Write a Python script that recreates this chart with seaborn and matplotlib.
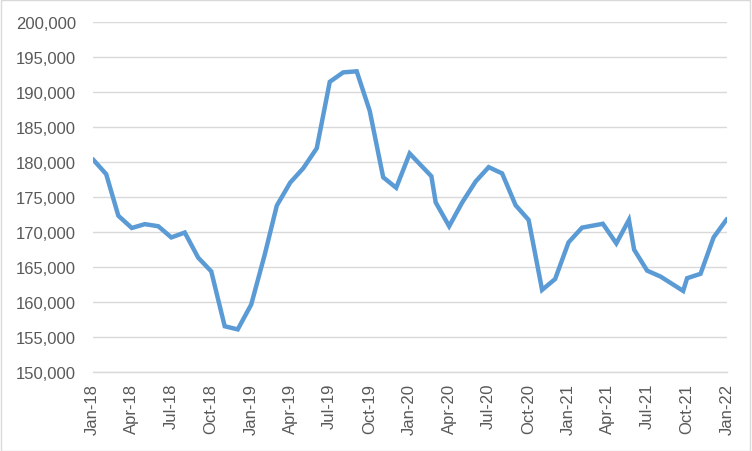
import pandas as pd
import matplotlib.pyplot as plt
import matplotlib.dates as mdates
import matplotlib.ticker as mticker
import seaborn as sns
from matplotlib.patches import Rectangle

# values
dates = ['2018-01-01', '2018-02-01', '2018-03-01', '2018-04-01', '2018-05-01',
         '2018-06-01', '2018-07-01', '2018-08-01', '2018-09-01', '2018-10-01',
         '2018-11-01', '2018-12-01', '2019-01-01', '2019-02-01', '2019-03-01',
         '2019-04-01', '2019-05-01', '2019-06-01', '2019-07-01', '2019-08-01',
         '2019-09-01', '2019-10-01', '2019-11-01', '2019-12-01', '2020-01-01',
         '2020-02-20', '2020-03-01', '2020-04-01', '2020-05-01', '2020-06-01',
         '2020-07-01', '2020-08-01', '2020-09-01', '2020-10-01', '2020-11-01',
         '2020-12-01', '2021-01-01', '2021-02-01', '2021-03-21', '2021-04-21',
         '2021-05-20', '2021-06-01', '2021-07-01', '2021-08-01', '2021-09-22',
         '2021-10-01', '2021-11-01', '2021-12-01', '2022-01-01']
values = [180400, 178250, 172300, 170550, 171100,
          170800, 169200, 169900, 166300, 164350,
          156500, 156050, 159600, 166700, 173750,
          177050, 179100, 181950, 191450, 192800,
          192950, 187300, 177800, 176300, 181200,
          177950, 174200, 170800, 174200, 177200,
          179250, 178350, 173800, 171700, 161700,
          163250, 168500, 170600, 171150, 168350,
          171700, 167450, 164450, 163600, 161550,
          163370, 164000, 169200, 171850]

df = pd.DataFrame({'date': pd.to_datetime(dates), 'value': values})

sns.set_style("white")
plt.rcParams['font.family'] = ['Liberation Sans', 'DejaVu Sans']

fig = plt.figure(figsize=(7.52, 4.52), dpi=100)
ax = fig.add_axes([0.1233, 0.1754, 0.8435, 0.7737])

sns.lineplot(data=df, x='date', y='value', ax=ax, color='#5B9BD5',
             linewidth=3.2, solid_joinstyle='miter')

ax.set_xlim(pd.Timestamp('2018-01-01'), pd.Timestamp('2022-01-01'))
ax.set_ylim(150000, 200000)
ax.yaxis.set_major_locator(mticker.MultipleLocator(5000))
ax.yaxis.set_major_formatter(mticker.FuncFormatter(lambda v, p: f'{v:,.0f}'))
ax.xaxis.set_major_locator(mdates.MonthLocator(bymonth=[1, 4, 7, 10]))
ax.xaxis.set_major_formatter(mdates.DateFormatter('%b-%y'))

ax.grid(axis='y', color='#D9D9D9', linewidth=1.0)
ax.set_axisbelow(True)
for side in ['left', 'right', 'top']:
    ax.spines[side].set_visible(False)
ax.spines['bottom'].set_color('#D9D9D9')
ax.spines['bottom'].set_linewidth(1.0)

ax.tick_params(axis='x', rotation=90, colors='#595959', labelsize=12,
               length=5, width=1.0, color='#D9D9D9', direction='out', pad=3)
ax.tick_params(axis='y', colors='#595959', labelsize=12, length=0, pad=12)
ax.set_xlabel('')
ax.set_ylabel('')

fig.patches.append(Rectangle((0.001, 0.001), 0.997, 0.997, transform=fig.transFigure,
                             fill=False, edgecolor='#D9D9D9', linewidth=1.0))

fig.savefig('out.png', dpi=100)
